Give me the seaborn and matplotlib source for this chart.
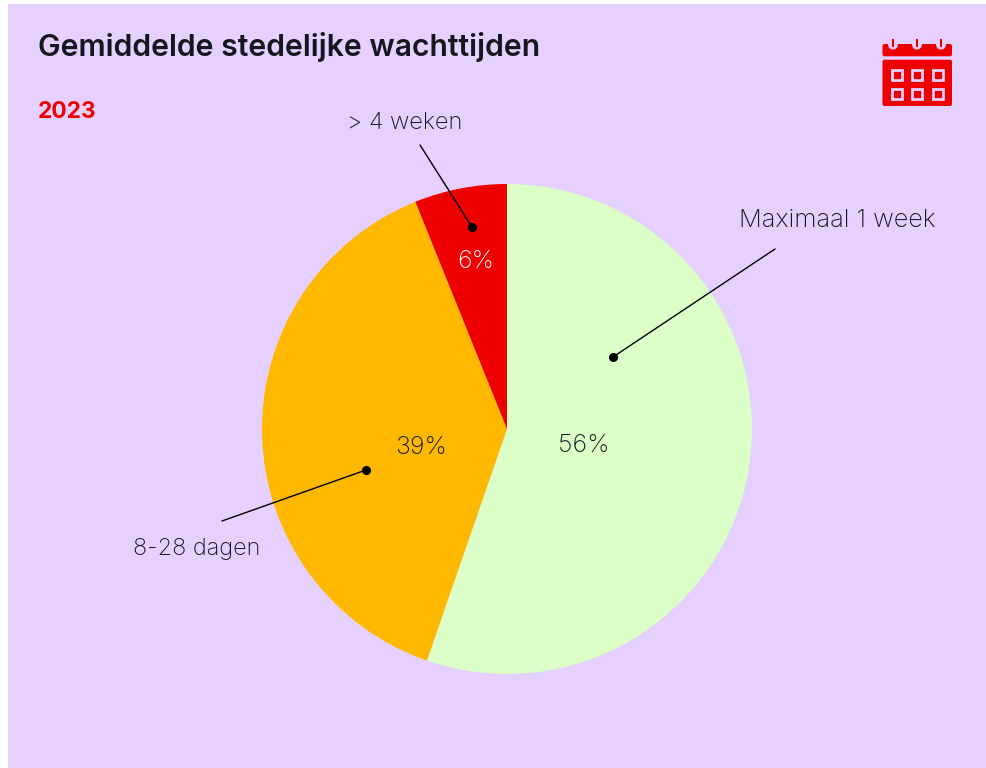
import matplotlib
matplotlib.use('Agg')
import matplotlib.pyplot as plt
import seaborn as sns
from matplotlib.patches import Rectangle, FancyBboxPatch

# pie data, going clockwise from the top
labels = ['Maximaal 1 week', '8-28 dagen', '> 4 weken']
values = [55.3, 38.6, 6.1]
pct_labels = ['56%', '39%', '6%']
colors = ['#DBFFC7', '#FFB800', '#EE0000']
title = 'Gemiddelde stedelijke wachttijden'
year = '2023'

sns.set_theme(style='white')
plt.rcParams['font.family'] = ['Inter', 'DejaVu Sans']

BG = '#E5D0FF'
RED = '#EE0000'
INK = '#16161F'
W, H = 987, 768

fig = plt.figure(figsize=(W / 100, H / 100), dpi=100, facecolor='white')

# overlay in pixel coordinates for background, texts and leader lines
back = fig.add_axes([0, 0, 1, 1], zorder=0)
back.set_xlim(0, W)
back.set_ylim(H, 0)
back.axis('off')
back.add_patch(Rectangle((8, 4), W - 8, H - 4, color=BG, lw=0))

# pie
cx, cy, r = 507, 429, 245
ax = fig.add_axes([(cx - r) / W, (H - cy - r) / H, 2 * r / W, 2 * r / H], zorder=1)
ax.pie(values, colors=colors, startangle=90, counterclock=False, radius=1,
       wedgeprops={'linewidth': 0, 'edgecolor': 'none'})
ax.set_xlim(-1, 1)
ax.set_ylim(-1, 1)
ax.patch.set_alpha(0)

top = fig.add_axes([0, 0, 1, 1], zorder=2)
top.set_xlim(0, W)
top.set_ylim(H, 0)
top.axis('off')
top.patch.set_alpha(0)

# headings
top.text(38, 47, title, fontsize=21.75, fontweight='semibold', color=INK, va='center', ha='left')
top.text(38, 112, year, fontsize=16.4, fontweight='bold', color=RED, va='center', ha='left')

# leader lines with dots
leaders = [((775, 249), (613, 357)), ((222, 521), (366, 470)), ((420, 145), (472, 227))]
for (x0, y0), (x1, y1) in leaders:
    top.plot([x0, x1], [y0, y1], color='black', lw=1)
    top.plot(x1, y1, 'o', color='black', ms=5.5)

# slice labels
top.text(837, 220.5, labels[0], fontsize=18.3, fontweight='light', color=INK, ha='center', va='center')
top.text(197, 549.5, labels[1], fontsize=16.9, fontweight='light', color=INK, ha='center', va='center')
top.text(404.5, 123, labels[2], fontsize=17.1, fontweight='light', color=INK, ha='center', va='center')

# percentages
top.text(584, 446, pct_labels[0], fontsize=18, fontweight='light', color=INK, ha='center', va='center')
top.text(421, 448, pct_labels[1], fontsize=18, fontweight='light', color=INK, ha='center', va='center')
top.text(475.5, 262, pct_labels[2], fontsize=18, fontweight='light', color='white', ha='center', va='center')

# calendar icon
top.add_patch(FancyBboxPatch((882.5, 44), 69.5, 12.3, boxstyle='round,pad=0,rounding_size=2', color=RED, lw=0))
top.add_patch(FancyBboxPatch((882.5, 59.7), 69.5, 46.3, boxstyle='round,pad=0,rounding_size=2', color=RED, lw=0))
for x in [893, 917, 941]:
    top.add_patch(plt.Circle((x, 44.5), 5, color=BG, lw=0))
    top.add_patch(Rectangle((x - 1.4, 39), 2.8, 8, color=RED, lw=0))
for y in [68, 87]:
    for x in [890, 910.5, 931]:
        top.add_patch(Rectangle((x + 1.5, y + 1.5), 10, 10, fc=RED, ec=BG, lw=2))

fig.savefig('out.png', dpi=100)
